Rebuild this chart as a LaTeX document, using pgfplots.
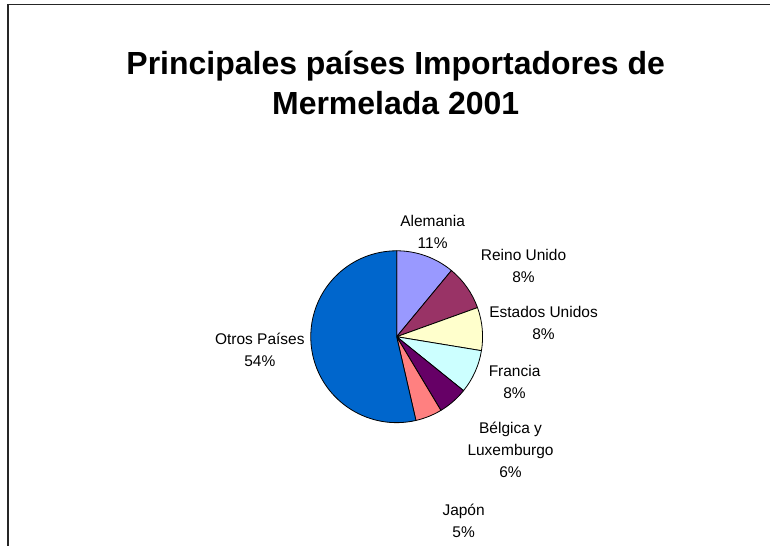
\documentclass[border=0pt]{standalone}
\usepackage{pgfplots}
\pgfplotsset{compat=1.18}
\usepackage{fontspec}
\setmainfont{Liberation Sans}
\definecolor{cAlem}{HTML}{9999FF}
\definecolor{cReino}{HTML}{993366}
\definecolor{cEEUU}{HTML}{FFFFCC}
\definecolor{cFran}{HTML}{CCFFFF}
\definecolor{cBelg}{HTML}{660066}
\definecolor{cJap}{HTML}{FF8080}
\definecolor{cOtros}{HTML}{0066CC}
\tikzset{lbl/.style={font=\fontsize{15.5}{22}\selectfont, align=center, inner sep=0pt}}
% #1 = cumulative share before the slice (%), #2 = share (%), #3 = colour
\newcommand{\slice}[3]{%
  \filldraw[fill=#3, draw=black, line width=0.8pt, line join=round]
    (axis cs:397,209) -- ++({90-3.6*(#1)}:86pt)
    arc[start angle={90-3.6*(#1)}, end angle={90-3.6*(#1+#2)}, radius=86pt] -- cycle;}
\begin{document}
\begin{tikzpicture}
\begin{axis}[
  width=771pt, height=546pt, scale only axis,
  xmin=0, xmax=771, ymin=0, ymax=546,
  hide axis, clip=false,
]
\path[draw=none] (axis cs:0,0) rectangle (axis cs:771,546);
% frame
\draw[color=black!85, line width=1.3pt] (axis cs:8,0) -- (axis cs:8,541.5) -- (axis cs:771,541.5);
% slices: Alemania 11.0, Reino Unido 8.5, Estados Unidos 8.1, Francia 8.2,
% Bélgica y Luxemburgo 5.6, Japón 5.0, Otros Países 53.6
\slice{0}{11.0}{cAlem}
\slice{11.0}{8.5}{cReino}
\slice{19.5}{8.1}{cEEUU}
\slice{27.6}{8.2}{cFran}
\slice{35.8}{5.6}{cBelg}
\slice{41.4}{5.0}{cJap}
\slice{46.4}{53.6}{cOtros}
% title
\node[align=center, inner sep=0pt, font=\fontsize{32}{41}\selectfont\bfseries] at (axis cs:396,463) {Principales países Importadores de\\Mermelada 2001};
% labels
\node[lbl] at (axis cs:433,313.5) {Alemania\\11\%};
\node[lbl] at (axis cs:524,279.5) {Reino Unido\\8\%};
\node[lbl] at (axis cs:544,222.5) {Estados Unidos\\8\%};
\node[lbl] at (axis cs:515,164) {Francia\\8\%};
\node[lbl] at (axis cs:511,95.5) {Bélgica y\\Luxemburgo\\6\%};
\node[lbl] at (axis cs:464,24.5) {Japón\\5\%};
\node[lbl] at (axis cs:260,195.5) {Otros Países\\54\%};
\end{axis}
\end{tikzpicture}
\end{document}
